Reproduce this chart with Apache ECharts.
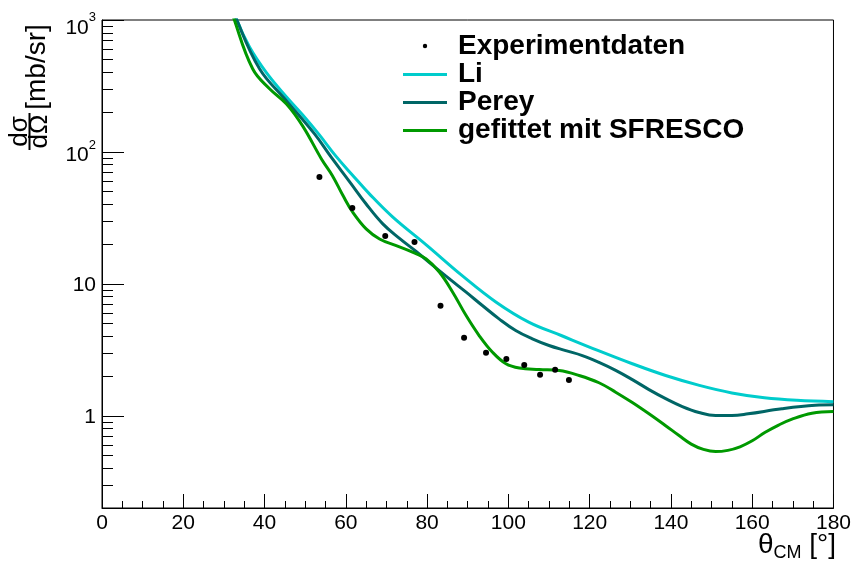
<!DOCTYPE html>
<html><head><meta charset="utf-8">
<script src="https://cdn.jsdelivr.net/npm/echarts@6/dist/echarts.min.js"></script>
<style>html,body{margin:0;padding:0;background:#fff}#c{width:854px;height:563px}</style>
</head><body><div id="c"></div>
<script>
// ---- data ----
const expAngle = [53.5, 61.6, 69.7, 76.9, 83.3, 89.1, 94.5, 99.5, 103.9, 107.8, 111.5, 114.9];
const expValue = [64.7, 37.6, 23.1, 20.8, 6.81, 3.90, 3.00, 2.70, 2.43, 2.05, 2.23, 1.87];

const liAngle = [31.5, 33.1, 36.3, 40.5, 45.4, 49.4, 53.5, 57.5, 61.6, 65.8, 71.5, 80, 88.4, 97, 105, 113, 122, 130.5, 138.7, 147, 155, 163, 171, 180];
const liValue = [1500, 1018, 624, 397, 261, 190.6, 134.6, 93.3, 66.9, 48.1, 32.2, 19.5, 11.7, 7.26, 5.13, 4.06, 3.13, 2.48, 2.02, 1.70, 1.49, 1.37, 1.31, 1.28];

const pereyAngle = [31.5, 33.1, 38.8, 45.2, 52.3, 56.4, 60.9, 65.0, 69.1, 73.2, 77.3, 81.4, 85.5, 89.6, 93.6, 97.7, 101.8, 105.9, 110, 114.1, 118.2, 122.3, 126.4, 130.5, 134.6, 138.7, 142.8, 146.9, 151, 155, 159, 167.3, 175.5, 180];
const pereyValue = [1500, 1018, 425, 248, 137, 91.2, 59.6, 40.3, 28.5, 22.1, 17.6, 13.8, 10.9, 8.65, 6.85, 5.43, 4.43, 3.83, 3.41, 3.12, 2.86, 2.54, 2.21, 1.88, 1.58, 1.35, 1.175, 1.06, 1.005, 1.005, 1.035, 1.13, 1.20, 1.21];

const fitAngle = [31, 32.5, 37.1, 41.3, 45.4, 49.4, 54.0, 56.7, 59.3, 61.7, 65.0, 68.3, 72.4, 76.4, 79.7, 83.0, 86.3, 89.6, 92.8, 96.1, 99.4, 102.7, 107.6, 112.5, 117.4, 122.3, 126.4, 130.5, 134.6, 138.7, 142, 145, 148, 151, 154, 157, 160, 163.2, 166.5, 169.8, 174.7, 180];
const fitValue = [1500, 1018, 425, 300, 231, 157, 88.5, 66.1, 46.7, 34.9, 26.1, 21.9, 19.5, 17.4, 15.5, 12.3, 8.65, 5.75, 4.06, 3.03, 2.48, 2.30, 2.24, 2.20, 2.02, 1.78, 1.51, 1.26, 1.035, 0.841, 0.708, 0.610, 0.556, 0.535, 0.547, 0.582, 0.646, 0.750, 0.851, 0.944, 1.047, 1.079];

const yMajor = [1, 10, 100, 1000];
const yMinor = [0.2, 0.3, 0.4, 0.5, 0.6, 0.7, 0.8, 0.9, 2, 3, 4, 5, 6, 7, 8, 9, 20, 30, 40, 50, 60, 70, 80, 90, 200, 300, 400, 500, 600, 700, 800, 900];
const seriesNames = ['Experimentdaten', 'Li', 'Perey', 'gefittet mit SFRESCO'];
const colors = ['#000000', '#00cccc', '#006666', '#009900'];

// ---- chart ----
const FONT = 'Liberation Sans';
const zip = (a, b) => a.map((v, i) => [v, b[i]]);
const chart = echarts.init(document.getElementById('c'), null, {renderer: 'canvas'});

const lineSeries = (name, ax, ay, color) => ({
  name, type: 'line', data: zip(ax, ay), smooth: 0.4, symbol: 'none', clip: true,
  lineStyle: {color, width: 3}, itemStyle: {color}, z: 3
});

const option = {
  animation: false,
  backgroundColor: '#ffffff',
  textStyle: {fontFamily: FONT},
  grid: {left: 102, right: 19, top: 20, bottom: 55, show: true, borderColor: '#000', borderWidth: 1, backgroundColor: 'transparent'},
  xAxis: {
    type: 'value', min: 0, max: 180, interval: 20,
    axisLine: {lineStyle: {color: '#000', width: 1}},
    axisTick: {inside: true, length: 14, lineStyle: {color: '#000', width: 1}},
    minorTick: {show: true, splitNumber: 4, length: 7, lineStyle: {color: '#000', width: 1}},
    splitLine: {show: false},
    axisLabel: {color: '#000', fontSize: 21, fontFamily: FONT, margin: 5}
  },
  yAxis: [
    {
      type: 'log', logBase: 10, min: 0.2, max: 1000, position: 'left',
      axisLine: {show: true, lineStyle: {color: '#000', width: 1}},
      axisTick: {inside: true, length: 22, customValues: yMajor, lineStyle: {color: '#000', width: 1}},
      splitLine: {show: false},
      axisLabel: {
        customValues: yMajor, margin: 6, color: '#000',
        formatter: v => {
          const e = Math.round(Math.log10(v));
          if (e === 3) return '{t|10}{ts|3}';
          if (e === 2) return '{b|10}{s|2}';
          return '{n|' + (e === 1 ? '10' : '1') + '}';
        },
        rich: {
          n: {fontSize: 21, fontFamily: FONT, color: '#000', padding: [3, 0, 0, 0]},
          b: {fontSize: 21, fontFamily: FONT, color: '#000', lineHeight: 26, verticalAlign: 'middle', padding: [6, 0, 0, 0]},
          s: {fontSize: 13, fontFamily: FONT, color: '#000', lineHeight: 13, verticalAlign: 'top'},
          t: {fontSize: 21, fontFamily: FONT, color: '#000', lineHeight: 26, verticalAlign: 'middle', padding: [16, 0, 0, 0]},
          ts: {fontSize: 13, fontFamily: FONT, color: '#000', lineHeight: 13, verticalAlign: 'top', padding: [4, 0, 0, 0]}
        }
      }
    },
    {
      type: 'log', logBase: 10, min: 0.2, max: 1000, position: 'left',
      axisLine: {show: false},
      axisTick: {inside: true, length: 11, customValues: yMinor, lineStyle: {color: '#000', width: 1}},
      axisLabel: {show: false},
      splitLine: {show: false}
    }
  ],
  legend: {
    left: 403, top: 32.5, padding: 0, orient: 'vertical', itemWidth: 44, itemHeight: 3, itemGap: 0,
    selectedMode: false,
    textStyle: {fontSize: 28, fontWeight: 'bold', fontFamily: FONT, color: '#000', lineHeight: 27, padding: [0, 0, 0, 6]},
    data: [
      {name: seriesNames[0], icon: 'rect', itemStyle: {opacity: 0}},
      {name: seriesNames[1], icon: 'rect', itemStyle: {color: colors[1]}},
      {name: seriesNames[2], icon: 'rect', itemStyle: {color: colors[2]}},
      {name: seriesNames[3], icon: 'rect', itemStyle: {color: colors[3]}}
    ]
  },
  series: [
    {name: seriesNames[0], type: 'scatter', data: zip(expAngle, expValue), symbol: 'circle', symbolSize: 6,
     itemStyle: {color: colors[0], opacity: 1}, z: 5},
    lineSeries(seriesNames[1], liAngle, liValue, colors[1]),
    lineSeries(seriesNames[2], pereyAngle, pereyValue, colors[2]),
    lineSeries(seriesNames[3], fitAngle, fitValue, colors[3])
  ],
  graphic: [
    {type: 'circle', shape: {cx: 425, cy: 46, r: 2.2}, style: {fill: '#000'}, z: 100},
    {
      type: 'text', x: 836, y: 545, z: 100,
      style: {
        text: '{a|θ}{b|CM}{a| [°]}', align: 'right', verticalAlign: 'middle', fill: '#000',
        rich: {
          a: {fontSize: 28, fontFamily: FONT, lineHeight: 34, verticalAlign: 'middle', fill: '#000'},
          b: {fontSize: 18, fontFamily: FONT, lineHeight: 14, verticalAlign: 'bottom', fill: '#000'}
        }
      }
    },
    {
      type: 'group', x: 0, y: 563, rotation: Math.PI / 2, z: 100,
      children: [
        {type: 'text', x: 431.5, y: 20, style: {text: 'dσ', fontSize: 26, fontFamily: FONT, align: 'center', verticalAlign: 'middle', fill: '#000'}},
        {type: 'line', shape: {x1: 413, y1: 29.5, x2: 450, y2: 29.5}, style: {stroke: '#000', lineWidth: 2}},
        {type: 'text', x: 431.5, y: 40, style: {text: 'dΩ', fontSize: 26, fontFamily: FONT, align: 'center', verticalAlign: 'middle', fill: '#000'}},
        {type: 'text', x: 496, y: 37, style: {text: '[mb/sr]', fontSize: 28, fontFamily: FONT, align: 'center', verticalAlign: 'middle', fill: '#000'}}
      ]
    }
  ]
};
chart.setOption(option);
</script>
</body></html>
